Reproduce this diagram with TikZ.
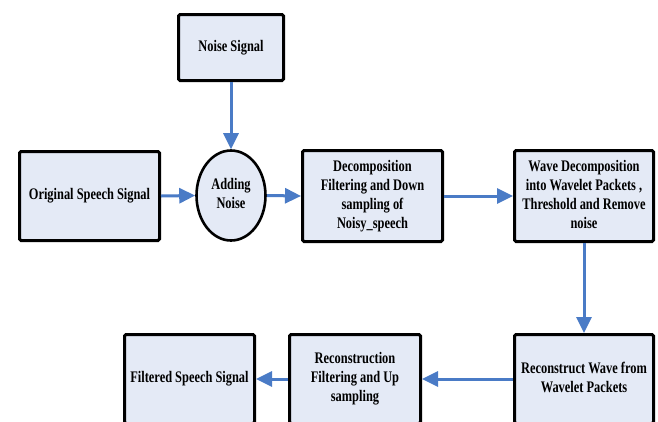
\documentclass[tikz,border=0pt]{standalone}
\usepackage{fontspec}
\setmainfont{Liberation Serif}
\usetikzlibrary{arrows.meta,shapes.geometric}
\definecolor{boxfill}{HTML}{E4EAF6}
\definecolor{arrblue}{HTML}{4A7BC6}
\newcommand\boxtext[1]{\scalebox{1}[1.3]{\begin{tabular}{@{}c@{}}#1\end{tabular}}}
\tikzset{
  blk/.style={draw=black, line width=3pt, fill=boxfill, rounded corners=1.5pt,
    rectangle, inner sep=0pt, font=\bfseries\fontsize{12.4}{14.6}\selectfont},
  ell/.style={draw=black, line width=2.6pt, fill=boxfill, ellipse, inner sep=0pt,
    font=\bfseries\fontsize{12.4}{14.6}\selectfont},
  arr/.style={draw=arrblue, line width=3pt, -{Triangle[length=16pt,width=15pt]}}
}
\begin{document}
\begin{tikzpicture}[x=1pt,y=-1pt]
\useasboundingbox (0,0) rectangle (658,421);
\clip (0,0) rectangle (658,421);
\node[blk, minimum width=105pt, minimum height=66pt] (noise) at (231,47.5) {\boxtext{Noise Signal}};
\node[blk, minimum width=140pt, minimum height=89pt] (orig) at (89.5,196) {\boxtext{Original Speech Signal}};
\node[ell, minimum width=69pt, minimum height=90pt] (add) at (231,195.5) {\boxtext{Adding\\Noise}};
\node[blk, minimum width=140pt, minimum height=91pt] (dec) at (372.5,196) {\boxtext{Decomposition\\Filtering and Down\\sampling of\\Noisy\_speech}};
\node[blk, minimum width=139pt, minimum height=91pt] (wave) at (584,196) {\boxtext{Wave Decomposition\\into Wavelet Packets ,\\Threshold and Remove\\noise}};
\node[blk, minimum width=139pt, minimum height=89pt] (rec) at (584,379) {\boxtext{Reconstruct Wave from\\Wavelet Packets}};
\node[blk, minimum width=131pt, minimum height=89pt] (recf) at (355,379) {\boxtext{Reconstruction\\Filtering and Up\\sampling}};
\node[blk, minimum width=130pt, minimum height=89pt] (filt) at (189.5,379) {\boxtext{Filtered Speech Signal}};
\draw[arr] (noise.south) -- (add.north);
\draw[arr] (orig.east) -- (add.west);
\draw[arr] (add.east) -- (dec.west);
\draw[arr] (dec.east) -- (wave.west);
\draw[arr] (wave.south) -- (rec.north);
\draw[arr] (rec.west) -- (recf.east);
\draw[arr] (recf.west) -- (filt.east);
\end{tikzpicture}
\end{document}
